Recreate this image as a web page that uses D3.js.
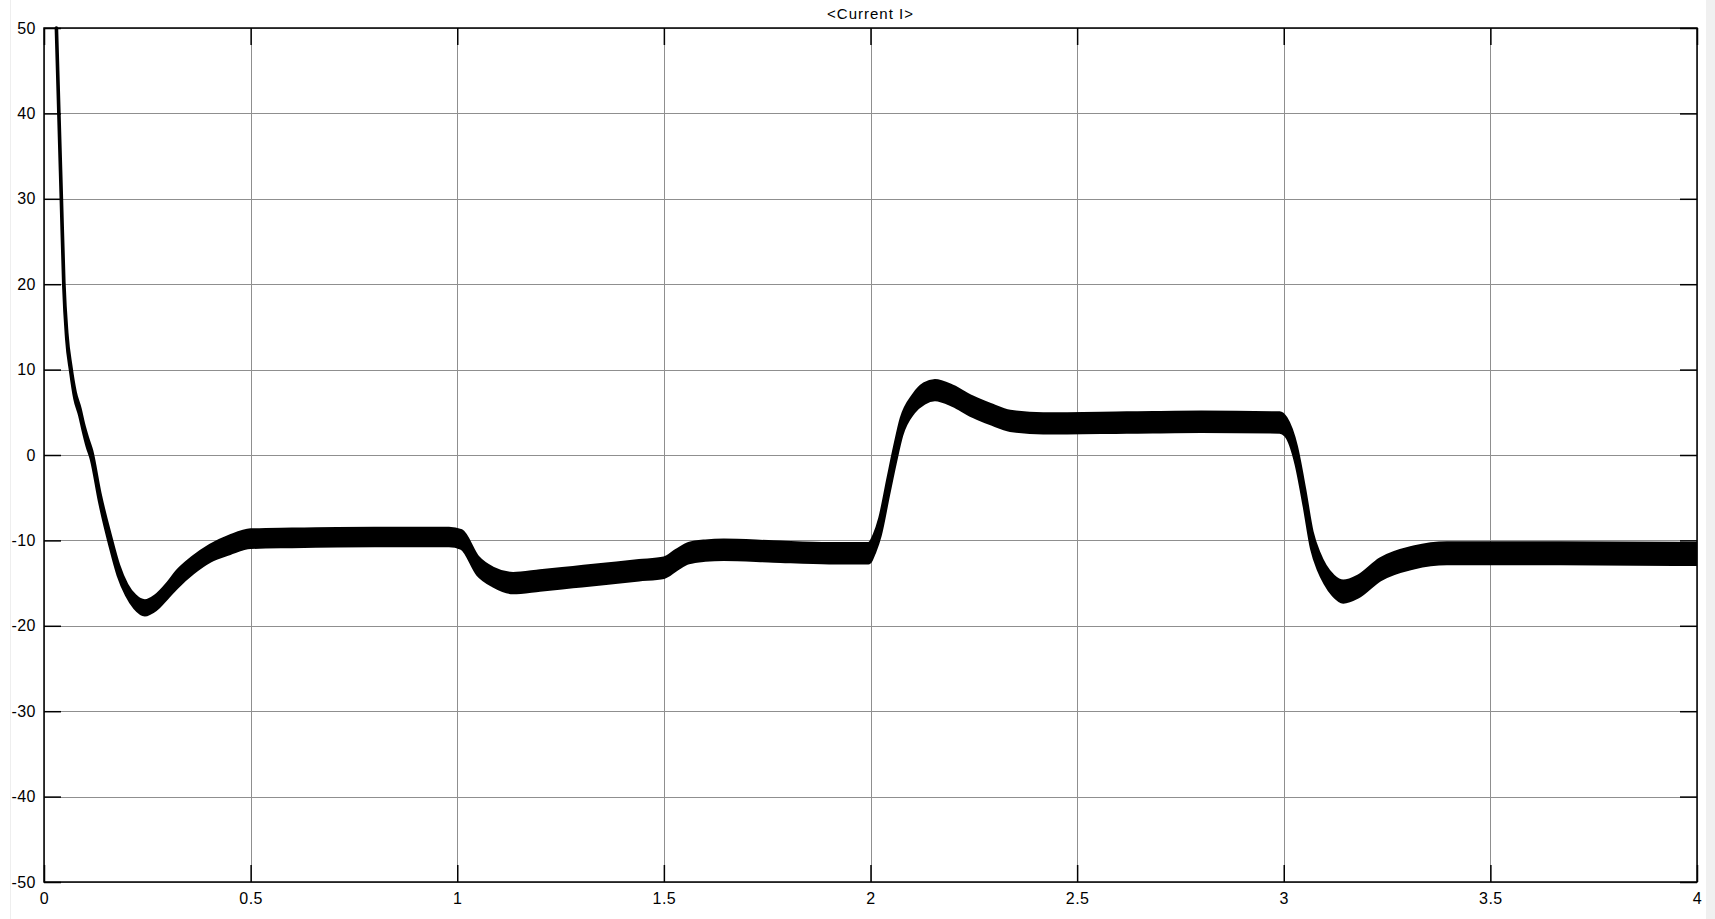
<!DOCTYPE html>
<html>
<head>
<meta charset="utf-8">
<script src="https://cdn.jsdelivr.net/npm/d3@7"></script>
<style>
  body { margin: 0; background: #fff; }
  svg { display: block; }
  .tick text { font-family: "Liberation Sans", Arial, sans-serif; font-size: 16px; letter-spacing: 0.5px; fill: #000; }
</style>
</head>
<body>
<svg id="chart" width="1715" height="919"></svg>
<script>
// simulated current trace: time (s), mean value (A), ripple half-band (A)
const timeS = [0.030, 0.033, 0.036, 0.042, 0.048, 0.055, 0.065, 0.075, 0.087, 0.095, 0.105, 0.115,
  0.135, 0.160, 0.180, 0.200, 0.220, 0.244, 0.270, 0.300, 0.321, 0.360, 0.402, 0.450, 0.500,
  0.600, 0.800, 0.980, 1.010, 1.050, 1.087, 1.135, 1.200, 1.280, 1.360, 1.440, 1.500, 1.530,
  1.560, 1.600, 1.645, 1.765, 1.900, 1.995, 2.010, 2.023, 2.043, 2.059, 2.075, 2.104, 2.130,
  2.156, 2.200, 2.241, 2.290, 2.338, 2.418, 2.620, 2.800, 2.990, 3.005, 3.030, 3.050, 3.068,
  3.085, 3.100, 3.120, 3.144, 3.180, 3.233, 3.314, 3.395, 3.670, 4.000];
const currentMean = [50, 45, 40, 30, 20, 14, 10, 7, 5, 3.3, 1.5, 0,
  -5, -10, -13.5, -15.8, -17.2, -17.9, -17.3, -15.8, -14.6, -12.9, -11.5, -10.5, -9.8,
  -9.7, -9.6, -9.6, -9.9, -13.0, -14.3, -15.0, -14.7, -14.3, -13.9, -13.5, -13.2, -12.3,
  -11.5, -11.2, -11.1, -11.3, -11.5, -11.5, -10.3, -8.4, -3.7, 0, 3.3, 6.0, 7.2,
  7.6, 6.9, 5.8, 4.8, 4.0, 3.7, 3.8, 3.9, 3.8, 3.3, 0, -5, -10,
  -12.5, -14, -15.3, -16.0, -15.4, -13.4, -12.0, -11.5, -11.5, -11.6];
const rippleHalf = [0, 0, 0, 0.1, 0.2, 0.3, 0.3, 0.4, 0.4, 0.4, 0.5, 0.5,
  0.5, 0.6, 0.6, 0.6, 0.7, 0.8, 0.8, 0.8, 0.9, 0.9, 0.9, 1.0, 1.0,
  1.0, 1.0, 1.0, 1.0, 1.0, 1.0, 1.1, 1.1, 1.1, 1.1, 1.1, 1.1, 1.1,
  1.1, 1.1, 1.1, 1.1, 1.1, 1.1, 1.0, 1.0, 1.0, 1.0, 1.0, 1.0, 1.1,
  1.1, 1.1, 1.1, 1.1, 1.1, 1.1, 1.1, 1.1, 1.1, 1.0, 1.0, 1.0, 1.0,
  1.0, 1.0, 1.1, 1.2, 1.2, 1.2, 1.2, 1.2, 1.2, 1.2];

const xTicks = [0, 0.5, 1, 1.5, 2, 2.5, 3, 3.5, 4];
const yTicks = [-50, -40, -30, -20, -10, 0, 10, 20, 30, 40, 50];
const title = '<Current I>';

const svg = d3.select('#chart');
const margin = {top: 28, right: 18, bottom: 37, left: 44};
const width = 1715 - margin.left - margin.right;
const height = 919 - margin.top - margin.bottom;
const tickLen = 17;

// light strip on the far right + faint left line like the scope window
svg.append('rect').attr('x', 1706).attr('y', 0).attr('width', 9).attr('height', 919).attr('fill', '#f0f0f0');
svg.append('line').attr('x1', 10.5).attr('x2', 10.5).attr('y1', 0).attr('y2', 919).attr('stroke', '#eeeeee');

const g = svg.append('g').attr('transform', `translate(${margin.left},${margin.top})`);

const x = d3.scaleLinear().domain([0, 4]).range([0, width]);
const y = d3.scaleLinear().domain([-50, 50]).range([height, 0]);

// grid
g.append('g').selectAll('line').data(xTicks).enter().append('line')
  .attr('x1', d => Math.round(x(d)) + 0.5).attr('x2', d => Math.round(x(d)) + 0.5)
  .attr('y1', 0).attr('y2', height)
  .attr('stroke', '#8f8f8f').attr('stroke-width', 1);
g.append('g').selectAll('line').data(yTicks).enter().append('line')
  .attr('y1', d => Math.round(y(d)) + 0.5).attr('y2', d => Math.round(y(d)) + 0.5)
  .attr('x1', 0).attr('x2', width)
  .attr('stroke', '#8f8f8f').attr('stroke-width', 1);

// trace
const data = timeS.map((t, i) => ({t: t, hi: currentMean[i] + rippleHalf[i], lo: currentMean[i] - rippleHalf[i]}));

g.append('clipPath').attr('id', 'clip')
  .append('rect').attr('y', -2).attr('width', width).attr('height', height + 2);

const area = d3.area()
  .curve(d3.curveMonotoneX)
  .x(d => x(d.t))
  .y0(d => y(d.lo))
  .y1(d => y(d.hi));

g.append('path')
  .datum(data)
  .attr('clip-path', 'url(#clip)')
  .attr('d', area)
  .attr('fill', '#000')
  .attr('stroke', '#000')
  .attr('stroke-width', 3.6)
  .attr('stroke-linejoin', 'round');

// axes with inward ticks on all sides (plain hyphen for negatives, like the scope)
const fmt = d => String(d);
const xAxisB = d3.axisBottom(x).tickValues(xTicks).tickSize(-tickLen).tickPadding(11)
  .tickFormat(fmt);
const yAxisL = d3.axisLeft(y).tickValues(yTicks).tickSize(-tickLen).tickPadding(8)
  .tickFormat(fmt);

const bx = g.append('g').attr('transform', `translate(0,${height})`).call(xAxisB);
const ly = g.append('g').call(yAxisL);
const tx = g.append('g').call(d3.axisTop(x).tickValues(xTicks).tickSize(-tickLen).tickFormat(''));
const ry = g.append('g').attr('transform', `translate(${width},0)`)
  .call(d3.axisRight(y).tickValues(yTicks).tickSize(-tickLen).tickFormat(''));

[bx, ly, tx, ry].forEach(a => {
  a.select('.domain').remove();
  a.selectAll('.tick line').attr('stroke', '#000').attr('stroke-width', 1.5);
});

// frame
g.append('rect').attr('width', width).attr('height', height)
  .attr('fill', 'none').attr('stroke', '#000').attr('stroke-width', 1.5);

svg.append('text')
  .attr('x', margin.left + width / 2)
  .attr('y', 19)
  .attr('text-anchor', 'middle')
  .style('font-family', '"Liberation Sans", Arial, sans-serif')
  .style('font-size', '15px')
  .style('letter-spacing', '1px')
  .text(title);
</script>
</body>
</html>
